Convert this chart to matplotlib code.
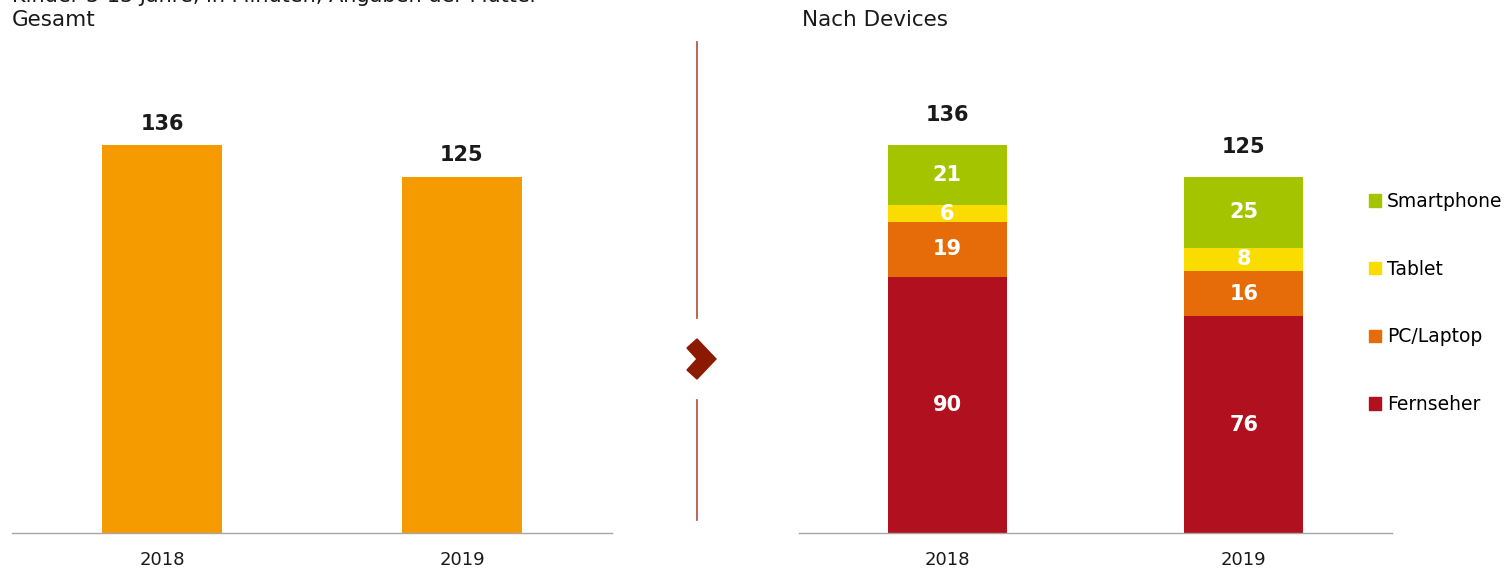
import matplotlib
matplotlib.use("Agg")
import matplotlib.pyplot as plt
from matplotlib.patches import Patch, Polygon
import numpy as np

plt.rcParams["font.family"] = ["DejaVu Sans"]

YEARS = ["2018", "2019"]
TOTAL = [136, 125]
SEGMENTS = ["Fernseher", "PC/Laptop", "Tablet", "Smartphone"]
FERNSEHER = [90, 76]
PC_LAPTOP = [19, 16]
TABLET = [6, 8]
SMARTPHONE = [21, 25]

C_TOTAL = "#F59B00"
SEG_COLORS = ["#B1101F", "#E66C0A", "#FADC00", "#A5C400"]
TXT = "#1a1a1a"

W, H = 1510, 573
fig = plt.figure(figsize=(W / 100, H / 100), dpi=100)

def px_axes(x0, x1, y_top, y_bot):
    return fig.add_axes([x0 / W, 1 - y_bot / H, (x1 - x0) / W, (y_bot - y_top) / H])

YMAX = 170
y_top = 533 - YMAX * 2.85

def style(ax):
    ax.set_xlim(-0.5, 1.5)
    ax.set_ylim(0, YMAX)
    for s in ["top", "right", "left"]:
        ax.spines[s].set_visible(False)
    ax.spines["bottom"].set_color("#a6a6a6")
    ax.spines["bottom"].set_linewidth(1.0)
    ax.set_yticks([])
    ax.set_xticks(range(len(YEARS)))
    ax.set_xticklabels(YEARS, fontsize=13, color=TXT)
    ax.tick_params(axis="x", length=0, pad=13)

# left panel
ax1 = px_axes(12, 612, y_top, 533)
x = np.arange(len(YEARS))
ax1.bar(x, TOTAL, width=0.4, color=C_TOTAL)
for xi, v in zip(x, TOTAL):
    ax1.text(xi, v + 4, str(v), ha="center", va="bottom", fontsize=15,
             fontweight="bold", color=TXT)
style(ax1)

# right panel
ax2 = px_axes(799, 1392, y_top, 533)
bottom = np.zeros(len(YEARS))
for name, vals, col in zip(SEGMENTS, [FERNSEHER, PC_LAPTOP, TABLET, SMARTPHONE], SEG_COLORS):
    vals = np.array(vals, dtype=float)
    ax2.bar(x, vals, width=0.4, bottom=bottom, color=col, label=name)
    for xi, b, v in zip(x, bottom, vals):
        ax2.text(xi, b + v / 2, f"{v:.0f}", ha="center", va="center", fontsize=15,
                 fontweight="bold", color="white")
    bottom += vals
for xi, v in zip(x, TOTAL):
    ax2.text(xi, v + 7, str(v), ha="center", va="bottom", fontsize=15,
             fontweight="bold", color=TXT)
style(ax2)

handles = [Patch(color=c, label=n) for n, c in zip(SEGMENTS, SEG_COLORS)][::-1]
fig.legend(handles=handles, loc="upper left", bbox_to_anchor=(1369 / W, 1 - 192 / H),
           frameon=False, fontsize=13.5, handlelength=0.65, handleheight=0.65,
           handletextpad=0.3, labelspacing=2.6, borderaxespad=0, borderpad=0)

# titles (first line is cut off at the top edge, as in the source)
fig.text(12 / W, 1 - 2 / H, "Kinder 3-13 Jahre, in Minuten, Angaben der Mutter",
         fontsize=15, color=TXT, va="baseline")
fig.text(12 / W, 1 - 20 / H, "Gesamt", fontsize=15.5, color=TXT, va="center")
fig.text(802 / W, 1 - 20 / H, "Nach Devices", fontsize=15.5, color=TXT, va="center")

# divider with chevron
lc = "#b04a3a"
fig.add_artist(plt.Line2D([697 / W, 697 / W], [1 - 42 / H, 1 - 318 / H], color=lc, lw=1.2))
fig.add_artist(plt.Line2D([697 / W, 697 / W], [1 - 400 / H, 1 - 520 / H], color=lc, lw=1.2))
chev = np.array([[697, 339], [716, 359], [697, 379], [687, 370], [697, 359], [687, 348]])
fig.add_artist(Polygon(np.column_stack([chev[:, 0] / W, 1 - chev[:, 1] / H]),
                       closed=True, color="#8B1A00", transform=fig.transFigure))

fig.savefig("out.png", dpi=100)
